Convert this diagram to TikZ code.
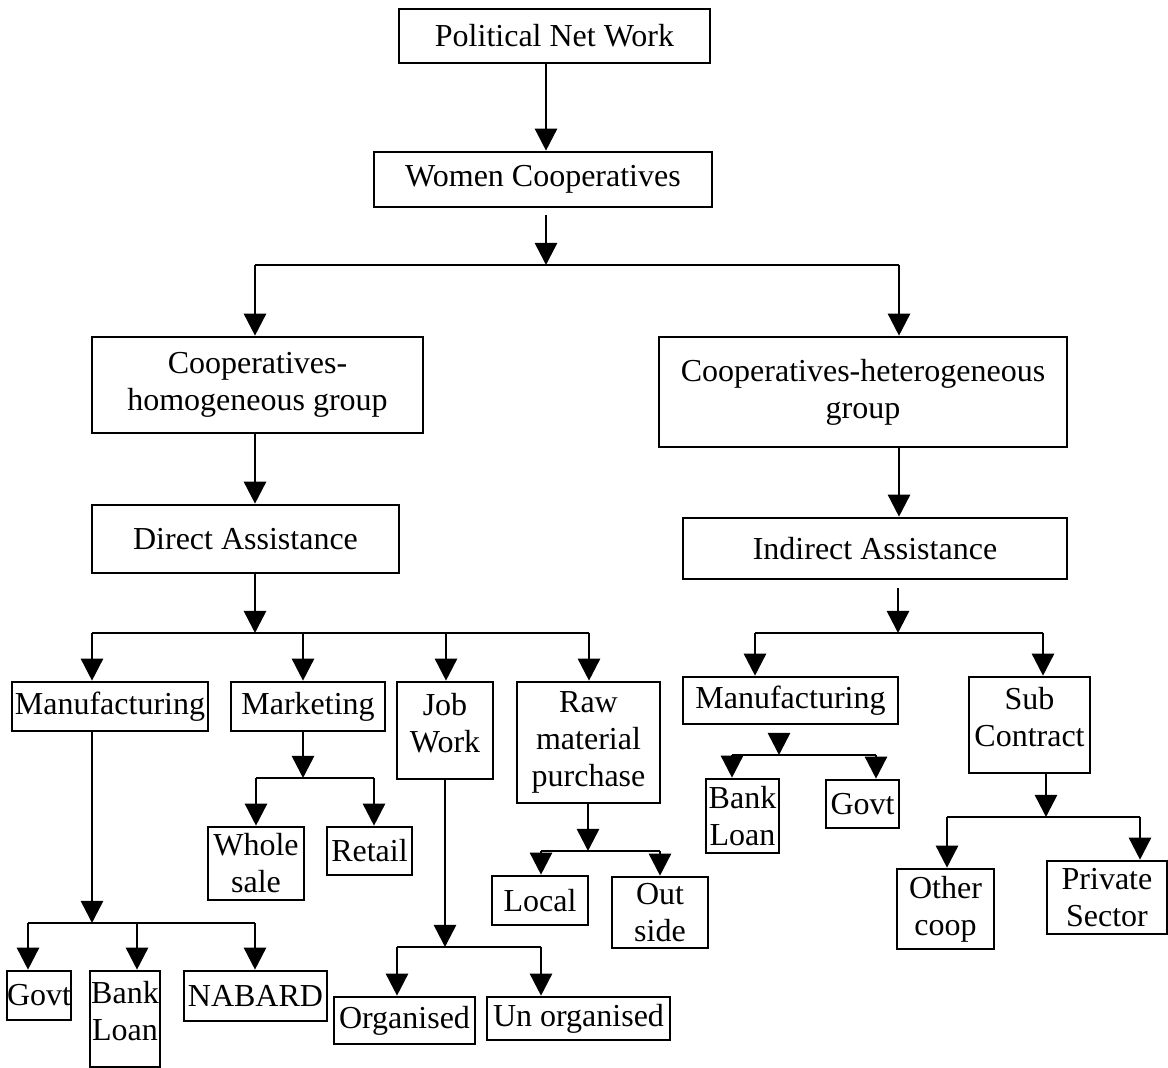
\documentclass[tikz,border=0pt]{standalone}
\usepackage{fontspec}
\setmainfont{Liberation Serif}
\usetikzlibrary{arrows.meta}
\begin{document}
\begin{tikzpicture}[x=0.5pt,y=-0.5pt,
  box/.style={draw,line width=1.3pt,inner sep=0pt,align=center,
    font=\fontsize{16}{18.5}\selectfont},
  high/.style={text depth=8pt},
  arr/.style={-{Triangle[length=11pt,width=11pt]},line width=1.3pt},
  ln/.style={line width=1.3pt}]
\useasboundingbox (0,0) rectangle (1168,1068);

% ---- boxes ----
\node[box,minimum width=155.5pt,minimum height=27pt] (pol) at (554.5,36) {Political Net Work};
\node[box,minimum width=169pt,minimum height=27.5pt] (wc) at (543,179.5) {Women Cooperatives};
\node[box,minimum width=165.5pt,minimum height=48pt] (homo) at (257.5,385) {Cooperatives-\\homogeneous group};
\node[box,minimum width=204pt,minimum height=55pt] (hetero) at (863,392) {Cooperatives-heterogeneous\\group};
\node[box,minimum width=153.5pt,minimum height=34pt] (direct) at (245.5,539) {Direct Assistance};
\node[box,minimum width=192pt,minimum height=30.5pt] (indirect) at (875,548.5) {Indirect Assistance};

\node[box,minimum width=98pt,minimum height=24.5pt] (manL) at (110,706.5) {Manufacturing};
\node[box,minimum width=77pt,minimum height=24.5pt] (mkt) at (308,706.5) {Marketing};
\node[box,high,minimum width=48pt,minimum height=48.5pt] (job) at (445,730.5) {Job\\Work};
\node[box,minimum width=71.5pt,minimum height=60.5pt] (raw) at (588.5,742.5) {Raw\\material\\purchase};
\node[box,minimum width=107.5pt,minimum height=23.5pt] (manR) at (790.5,700.5) {Manufacturing};
\node[box,high,minimum width=60.5pt,minimum height=48pt] (sub) at (1029.5,725) {Sub\\Contract};

\node[box,minimum width=30pt,minimum height=24.5pt] (govtL) at (39,995.5) {Govt};
\node[box,high,minimum width=35pt,minimum height=48pt] (bankL) at (125,1019) {Bank\\Loan};
\node[box,minimum width=71.5pt,minimum height=25pt] (nabard) at (255.5,996) {NABARD};
\node[box,minimum width=48pt,minimum height=36.5pt] (whole) at (256,863.5) {Whole\\sale};
\node[box,minimum width=42.5pt,minimum height=24pt] (retail) at (369.5,851) {Retail};
\node[box,minimum width=70.5pt,minimum height=23.5pt] (org) at (404.5,1020.5) {Organised};
\node[box,minimum width=91.5pt,minimum height=21.5pt] (unorg) at (578.5,1018.5) {Un organised};
\node[box,minimum width=48pt,minimum height=24.5pt] (local) at (540,900.5) {Local};
\node[box,minimum width=48pt,minimum height=35.5pt] (out) at (660,912.5) {Out\\side};
\node[box,minimum width=36.5pt,minimum height=37pt] (bankR) at (742.5,816) {Bank\\Loan};
\node[box,minimum width=36.5pt,minimum height=24pt] (govtR) at (862.5,804) {Govt};
\node[box,minimum width=48.5pt,minimum height=40pt] (other) at (945.5,909) {Other\\coop};
\node[box,minimum width=60pt,minimum height=36.5pt] (priv) at (1107,897.5) {Private\\Sector};

% ---- top chain ----
\coordinate (j1) at (546,265);
\draw[arr] (pol.south -| j1) -- (wc.north -| j1);
\draw[arr,shorten <=3.5pt] (wc.south -| j1) -- (j1);
\coordinate (hL) at (255,265);
\coordinate (hR) at (899,265);
\draw[ln] (hL) -- (hR);
\draw[arr] (hL) -- (hL |- homo.north);
\draw[arr] (hR) -- (hR |- hetero.north);
\draw[arr] (homo.south -| hL) -- (direct.north -| hL);
\draw[arr] (hetero.south -| hR) -- (indirect.north -| hR);

% ---- direct assistance branches ----
\coordinate (j2) at (255,633);
\draw[arr] (direct.south -| j2) -- (j2);
\coordinate (d1) at (92,633);
\coordinate (d2) at (303,633);
\coordinate (d3) at (446,633);
\coordinate (d4) at (589,633);
\draw[ln] (d1) -- (d4);
\draw[arr] (d1) -- (d1 |- manL.north);
\draw[arr] (d2) -- (d2 |- mkt.north);
\draw[arr] (d3) -- (d3 |- job.north);
\draw[arr] (d4) -- (d4 |- raw.north);

% manufacturing (left)
\coordinate (j3) at (92,923);
\draw[arr] (manL.south -| j3) -- (j3);
\coordinate (m1) at (28,923);
\coordinate (m2) at (137,923);
\coordinate (m3) at (255,923);
\draw[ln] (m1) -- (m3);
\draw[arr] (m1) -- (m1 |- govtL.north);
\draw[arr] (m2) -- (m2 |- bankL.north);
\draw[arr] (m3) -- (m3 |- nabard.north);

% marketing
\coordinate (j4) at (303,778);
\draw[arr] (mkt.south -| j4) -- (j4);
\coordinate (k1) at (256,778);
\coordinate (k2) at (374,778);
\draw[ln] (k1) -- (k2);
\draw[arr] (k1) -- (k1 |- whole.north);
\draw[arr] (k2) -- (k2 |- retail.north);

% job work
\coordinate (j5) at (445,947);
\draw[arr] (job.south -| j5) -- (j5);
\coordinate (w1) at (397,947);
\coordinate (w2) at (541,947);
\draw[ln] (w1) -- (w2);
\draw[arr] (w1) -- (w1 |- org.north);
\draw[arr] (w2) -- (w2 |- unorg.north);

% raw material
\coordinate (j6) at (588,851);
\draw[arr] (raw.south -| j6) -- (j6);
\coordinate (r1) at (541,851);
\coordinate (r2) at (660,851);
\draw[ln] (r1) -- (r2);
\draw[arr] (r1) -- (r1 |- local.north);
\draw[arr] (r2) -- (r2 |- out.north);

% ---- indirect assistance branches ----
\coordinate (j7) at (898,633);
\draw[arr,shorten <=4pt] (indirect.south -| j7) -- (j7);
\coordinate (i1) at (755,633);
\coordinate (i2) at (1043,633);
\draw[ln] (i1) -- (i2);
\draw[arr] (i1) -- (i1 |- manR.north);
\draw[arr] (i2) -- (i2 |- sub.north);

% manufacturing (right)
\coordinate (j8) at (779,755);
\draw[arr,shorten <=5pt] (manR.south -| j8) -- (j8);
\coordinate (n1) at (732,755);
\coordinate (n2) at (876,755);
\draw[ln] (n1) -- (n2);
\draw[arr] (n1) -- (n1 |- bankR.north);
\draw[arr] (n2) -- (n2 |- govtR.north);

% sub contract
\coordinate (j9) at (1046,817);
\draw[arr] (sub.south -| j9) -- (j9);
\coordinate (s1) at (947,817);
\coordinate (s2) at (1140,817);
\draw[ln] (s1) -- (s2);
\draw[arr] (s1) -- (s1 |- other.north);
\draw[arr] (s2) -- (s2 |- priv.north);
\end{tikzpicture}
\end{document}
